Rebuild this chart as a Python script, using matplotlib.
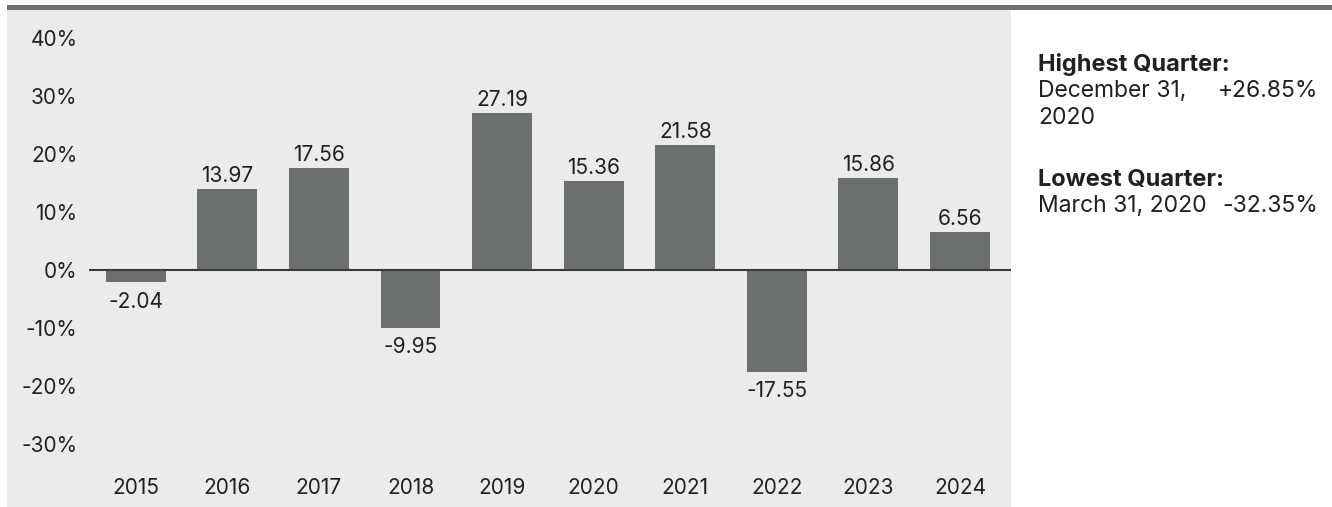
import numpy as np
import matplotlib
matplotlib.use("Agg")
import matplotlib.pyplot as plt
from matplotlib.patches import Rectangle

# calendar year returns (%)
years = ["2015", "2016", "2017", "2018", "2019", "2020", "2021", "2022", "2023", "2024"]
returns = [-2.04, 13.97, 17.56, -9.95, 27.19, 15.36, 21.58, -17.55, 15.86, 6.56]
yticks = [-30, -20, -10, 0, 10, 20, 30, 40]

best_label = "Highest Quarter:"
best_date = ["December 31,", "2020"]
best_value = "+26.85%"
worst_label = "Lowest Quarter:"
worst_date = "March 31, 2020"
worst_value = "-32.35%"

plt.rcParams["font.family"] = ["Inter", "DejaVu Sans"]
TXT = "#231f20"
BAR = "#6b706e"
W, H = 1332, 507
FS = 15         # axis text
FS_SIDE = 16.5  # side notes

fig = plt.figure(figsize=(W / 100, H / 100), dpi=100, facecolor="white")

def fx(px):
    return px / W

def fy(py):
    return 1 - py / H

# grey panel and the rule across the top
fig.patches.append(Rectangle((fx(7), 0), fx(1011) - fx(7), fy(10), transform=fig.transFigure,
                             facecolor="#ebebeb", edgecolor="none", zorder=-5))
fig.patches.append(Rectangle((fx(7), fy(10)), 1 - fx(7), 5 / H, transform=fig.transFigure,
                             facecolor="#6e6f70", edgecolor="none", zorder=-5))

ax = fig.add_axes([fx(89), fy(465), fx(1011) - fx(89), (465 - 10) / H])
ax.set_zorder(2)
ax.patch.set_visible(False)

scale = 5.79  # px per percent
ax.set_ylim(-(465 - 270) / scale, (270 - 10) / scale)
ax.set_xlim(-0.51, 9.556)

x = np.arange(len(years))
ax.bar(x, returns, width=0.655, color=BAR, zorder=2)
ax.axhline(0, color="#3a3a3a", lw=1.5, zorder=3)

for xi, v in zip(x, returns):
    off = 5 if v >= 0 else -18.5
    ax.annotate(f"{v:.2f}", (xi, v), xytext=(0, off), textcoords="offset points",
                ha="center", va="baseline", fontsize=FS, color=TXT)

ax.set_xticks(x)
ax.set_xticklabels(years)
ax.set_yticks(yticks)
ax.set_yticklabels([f"{t}%" for t in yticks])
ax.tick_params(axis="both", length=0, labelsize=FS, labelcolor=TXT)
ax.tick_params(axis="x", pad=9.5)
ax.tick_params(axis="y", pad=8.2)
for s in ax.spines.values():
    s.set_visible(False)

# best / worst quarter notes
fig.text(fx(1038), fy(70.7), best_label, fontsize=17, fontweight="bold", color=TXT, va="baseline")
fig.text(fx(1038), fy(97), best_date[0], fontsize=FS_SIDE, color=TXT, va="baseline")
fig.text(fx(1318), fy(97), best_value, fontsize=FS_SIDE, color=TXT, va="baseline", ha="right")
fig.text(fx(1038), fy(124), best_date[1], fontsize=FS_SIDE, color=TXT, va="baseline")
fig.text(fx(1038), fy(185.7), worst_label, fontsize=17, fontweight="bold", color=TXT, va="baseline")
fig.text(fx(1038), fy(211.7), worst_date, fontsize=FS_SIDE, color=TXT, va="baseline")
fig.text(fx(1318), fy(211.7), worst_value, fontsize=FS_SIDE, color=TXT, va="baseline", ha="right")

fig.savefig("out.png", dpi=100)
